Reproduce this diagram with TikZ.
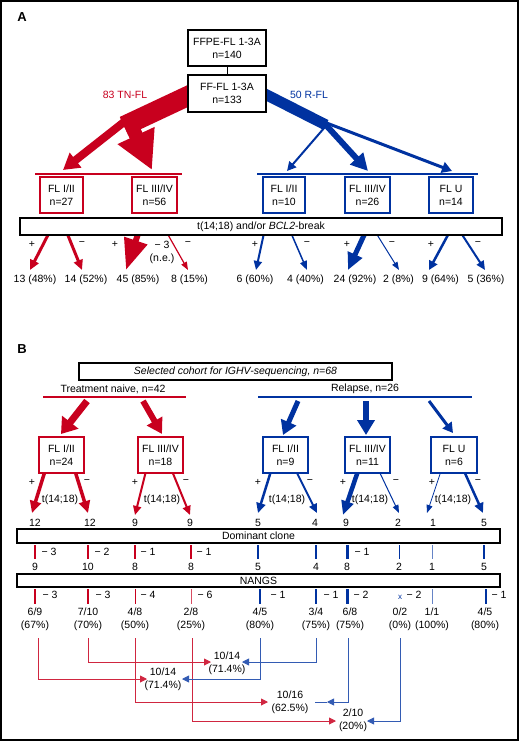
\documentclass[tikz,border=0pt]{standalone}
\usepackage{fontspec}
\setmainfont{Liberation Sans}
\usetikzlibrary{arrows.meta}
\definecolor{myred}{RGB}{200,0,30}
\definecolor{myblue}{RGB}{0,50,160}
\tikzset{
  ahead/.style 2 args={-{Triangle[length=#1pt,width=#2pt]}},
  bbox/.style={draw=black, line width=1.1pt, fill=white},
  rbox/.style={draw=myred, line width=1.6pt, fill=white, minimum height=36pt},
  blbox/.style={draw=myblue, line width=1.6pt, fill=white, minimum height=36pt},
  rline/.style={draw=myred!85, line width=0.9pt},
  bline/.style={draw=myblue!80, line width=0.9pt},
  smalltip/.style={-{Triangle[length=7pt,width=7pt]}},
  panel/.style={font=\bfseries\fontsize{13}{13}\selectfont}
}
\begin{document}
\begin{tikzpicture}[x=1pt,y=-1pt,
  every node/.style={font=\fontsize{10.5}{13}\selectfont, inner sep=0pt, align=center}]
\useasboundingbox (0,0) rectangle (520,741);
\draw[line width=1.5pt] (1,1) rectangle (518,740);

%================ PANEL A =================
\node[panel] (lblA) at (22,17) {A};

% red band and branches
\coordinate (rb0) at (200,90.3); \coordinate (rb1) at (124,126);
\draw[myred, line width=20pt] (rb0) -- (rb1);
\coordinate (rl0) at (124,122); \coordinate (rl1) at (63,170);
\draw[myred, line width=8pt, ahead={16}{18}] (rl0) -- (rl1);
\coordinate (rr0) at (127,116); \coordinate (rr1) at (152,170);
\draw[myred, line width=14pt, ahead={38}{38}] (rr0) -- (rr1);

% blue band and branches
\coordinate (bb0) at (255,89); \coordinate (bb1) at (326,125);
\draw[myblue, line width=11pt] (bb0) -- (bb1);
\coordinate (bl0) at (325,127); \coordinate (bl1) at (287,171);
\draw[myblue, line width=2pt, ahead={9}{9}] (bl0) -- (bl1);
\coordinate (bm0) at (325,124); \coordinate (bm1) at (368,171);
\draw[myblue, line width=6pt, ahead={17}{17}] (bm0) -- (bm1);
\coordinate (br0) at (324,122); \coordinate (br1) at (452,171);
\draw[myblue, line width=3pt, ahead={10}{11}] (br0) -- (br1);

\node[bbox, minimum width=78pt, minimum height=36pt] (ffpe) at (227,48) {FFPE-FL 1-3A\\n=140};
\node[bbox, minimum width=78pt, minimum height=37pt] (ff) at (227,93.5) {FF-FL 1-3A\\n=133};
\draw[line width=1pt] (ffpe.south) -- (ff.north);

\node[text=myred] (tn) at (125,95) {83 TN-FL};
\node[text=myblue] (rfl) at (309,95) {50 R-FL};

\coordinate (rh0) at (35,174); \coordinate (rh1) at (182,174);
\draw[myred, line width=2.2pt] (rh0) -- (rh1);
\coordinate (bh0) at (257,174); \coordinate (bh1) at (478,174);
\draw[myblue, line width=2.2pt] (bh0) -- (bh1);

\node[rbox, minimum width=43pt] (a1) at (61.5,195) {FL I/II\\n=27};
\node[rbox, minimum width=45pt] (a2) at (154.5,195) {FL III/IV\\n=56};
\node[blbox, minimum width=42pt] (a3) at (284,195) {FL I/II\\n=10};
\node[blbox, minimum width=45pt] (a4) at (367.5,195) {FL III/IV\\n=26};
\node[blbox, minimum width=44pt] (a5) at (451,195) {FL U\\n=14};

% lower arrows A
\coordinate (p1s) at (49,233); \coordinate (p1e) at (30,270);
\draw[myred, line width=3pt, ahead={10}{9}] (p1s) -- (p1e);
\coordinate (p2s) at (67,233); \coordinate (p2e) at (82,270);
\draw[myred, line width=3pt, ahead={10}{9}] (p2s) -- (p2e);
\coordinate (p3s) at (140,228); \coordinate (p3e) at (126,270);
\draw[myred, line width=6pt, ahead={31}{23}] (p3s) -- (p3e);
\coordinate (p4s) at (167,233); \coordinate (p4e) at (188,270);
\draw[myred, line width=1.2pt, ahead={8}{6}] (p4s) -- (p4e);
\coordinate (p5s) at (264,233); \coordinate (p5e) at (256,270);
\draw[myblue, line width=2pt, ahead={9}{8}] (p5s) -- (p5e);
\coordinate (p6s) at (291,233); \coordinate (p6e) at (307,270);
\draw[myblue, line width=1.5pt, ahead={9}{7}] (p6s) -- (p6e);
\coordinate (p7s) at (365,233); \coordinate (p7e) at (348,270);
\draw[myblue, line width=5pt, ahead={17}{15}] (p7s) -- (p7e);
\coordinate (p8s) at (376,233); \coordinate (p8e) at (399,270);
\draw[myblue, line width=1pt, ahead={8}{6}] (p8s) -- (p8e);
\coordinate (p9s) at (449,233); \coordinate (p9e) at (429,270);
\draw[myblue, line width=2.5pt, ahead={9}{9}] (p9s) -- (p9e);
\coordinate (p10s) at (461,233); \coordinate (p10e) at (485,270);
\draw[myblue, line width=2pt, ahead={9}{8}] (p10s) -- (p10e);

\node[bbox, minimum width=482pt, minimum height=17pt] (tbox) at (261,226.5) {t(14;18) and/or \textit{BCL2}-break};

% signs A
\foreach \x/\s [count=\i] in {32/+,82/−,115/+,188/−,255/+,307/−,347/+,392/−,431/+,478/−}
  \node (sa\i) at (\x,244) {\s};
\node (ne) at (162,252) {− 3\\(n.e.)};

\foreach \x/\t [count=\i] in {35/13 (48\%),86/14 (52\%),138/45 (85\%),189.5/8 (15\%),255/6 (60\%),305.5/4 (40\%),355/24 (92\%),398.5/2 (8\%),440.5/9 (64\%),486/5 (36\%)}
  \node (na\i) at (\x,280) {\t};

%================ PANEL B =================
\node[panel] (lblB) at (22,349) {B};
\node[bbox, minimum width=313pt, minimum height=17pt] (sel) at (235.5,371.5) {\itshape Selected cohort for IGHV-sequencing, n=68};
\node (tnv) at (113,389) {Treatment naive, n=42};
\node (rel) at (365,389) {Relapse, n=26};
\coordinate (rq0) at (43,397); \coordinate (rq1) at (186,397);
\draw[myred, line width=1.8pt] (rq0) -- (rq1);
\coordinate (bq0) at (258,397); \coordinate (bq1) at (472,397);
\draw[myblue, line width=1.8pt] (bq0) -- (bq1);

\coordinate (q1s) at (87,401); \coordinate (q1e) at (61,434);
\draw[myred, line width=7pt, ahead={15}{20}] (q1s) -- (q1e);
\coordinate (q2s) at (143,401); \coordinate (q2e) at (162,434);
\draw[myred, line width=6pt, ahead={15}{17}] (q2s) -- (q2e);
\coordinate (q3s) at (298,401); \coordinate (q3e) at (283,435);
\draw[myblue, line width=5pt, ahead={14}{16}] (q3s) -- (q3e);
\coordinate (q4s) at (366,401); \coordinate (q4e) at (366,435);
\draw[myblue, line width=6pt, ahead={15}{17}] (q4s) -- (q4e);
\coordinate (q5s) at (429,401); \coordinate (q5e) at (453,433);
\draw[myblue, line width=3pt, ahead={10}{11}] (q5s) -- (q5e);

% lower arrows B
\coordinate (u1s) at (45,471); \coordinate (u1e) at (32,513);
\draw[myred, line width=3.5pt, ahead={12}{11}] (u1s) -- (u1e);
\coordinate (u2s) at (75,471); \coordinate (u2e) at (88,513);
\draw[myred, line width=3.5pt, ahead={12}{11}] (u2s) -- (u2e);
\coordinate (u3s) at (146,471); \coordinate (u3e) at (135,515);
\draw[myred, line width=2pt, ahead={9}{8}] (u3s) -- (u3e);
\coordinate (u4s) at (172,471); \coordinate (u4e) at (190,515);
\draw[myred, line width=2pt, ahead={9}{8}] (u4s) -- (u4e);
\coordinate (u5s) at (271,471); \coordinate (u5e) at (258,513);
\draw[myblue, line width=2.5pt, ahead={10}{9}] (u5s) -- (u5e);
\coordinate (u6s) at (296,471); \coordinate (u6e) at (317,513);
\draw[myblue, line width=2pt, ahead={9}{8}] (u6s) -- (u6e);
\coordinate (u7s) at (358,471); \coordinate (u7e) at (343,515);
\draw[myblue, line width=4.5pt, ahead={14}{12}] (u7s) -- (u7e);
\coordinate (u8s) at (379,471); \coordinate (u8e) at (399,513);
\draw[myblue, line width=1pt, ahead={8}{6}] (u8s) -- (u8e);
\coordinate (u9s) at (441,471); \coordinate (u9e) at (427,513);
\draw[myblue, line width=0.8pt, ahead={8}{6}] (u9s) -- (u9e);
\coordinate (u10s) at (464,471); \coordinate (u10e) at (483,513);
\draw[myblue, line width=2.5pt, ahead={10}{9}] (u10s) -- (u10e);

\node[rbox, minimum width=45pt] (b1) at (61.5,455) {FL I/II\\n=24};
\node[rbox, minimum width=45pt] (b2) at (160.5,455) {FL III/IV\\n=18};
\node[blbox, minimum width=45pt] (b3) at (285.5,455) {FL I/II\\n=9};
\node[blbox, minimum width=45pt] (b4) at (367.5,455) {FL III/IV\\n=11};
\node[blbox, minimum width=46pt] (b5) at (454,455) {FL U\\n=6};

\foreach \x/\s [count=\i] in {32/+,87/−,135/+,186/−,258/+,310/−,343/+,396/−,432/+,478/−}
  \node (sb\i) at (\x,482) {\s};
\foreach \x [count=\i] in {60,162,287,370,453}
  \node (tt\i) at (\x,500) {t(14;18)};

\foreach \x/\t [count=\i] in {35/12,90/12,135/9,190/9,258/5,315/4,346/9,398/2,433/1,484/5}
  \node (nb\i) at (\x,523) {\t};

\node[bbox, minimum width=483pt, minimum height=14pt] (dom) at (258.5,536) {Dominant clone};

% bars below dominant clone
\draw[myred, line width=2.5pt] (35,545) -- (35,559);
\draw[myred, line width=2.5pt] (88,545) -- (88,559);
\draw[myred, line width=2pt] (135,545) -- (135,559);
\draw[myred, line width=2pt] (191,545) -- (191,559);
\draw[myblue, line width=2pt] (258,545) -- (258,559);
\draw[myblue, line width=1.5pt] (316,545) -- (316,559);
\draw[myblue, line width=3pt] (347,545) -- (347,559);
\draw[myblue, line width=0.8pt] (399,545) -- (399,559);
\draw[myblue!60, line width=0.7pt] (432,545) -- (432,559);
\draw[myblue, line width=2.5pt] (484,545) -- (484,559);
\node (d1) at (49,552) {− 3};
\node (d2) at (102,552) {− 2};
\node (d3) at (148,552) {− 1};
\node (d4) at (204,552) {− 1};
\node (d5) at (362,552) {− 1};

\foreach \x/\t [count=\i] in {35/9,88/10,135/8,191/8,258/5,316/4,347/8,399/2,432/1,484/5}
  \node (nc\i) at (\x,567) {\t};

\node[bbox, minimum width=483pt, minimum height=13pt] (nangs) at (258.5,580.5) {NANGS};

% bars below NANGS
\draw[myred, line width=2pt] (35,589) -- (35,604);
\draw[myred, line width=2pt] (88,589) -- (88,604);
\draw[myred, line width=1pt] (135,589) -- (135,604);
\draw[myred!70, line width=0.7pt] (191,589) -- (191,604);
\draw[myblue, line width=1.7pt] (260,589) -- (260,604);
\draw[myblue, line width=1.5pt] (316,589) -- (316,604);
\draw[myblue, line width=3pt] (347,589) -- (347,604);
\draw[myblue!60, line width=0.7pt] (432,589) -- (432,604);
\draw[myblue, line width=1.5pt] (486,589) -- (486,604);
\node[text=myblue, font=\fontsize{8}{8}\selectfont] (xm) at (400,597) {x};
\node (e1) at (50,595) {− 3};
\node (e2) at (103,595) {− 3};
\node (e3) at (148,595) {− 4};
\node (e4) at (205,595) {− 6};
\node (e5) at (278,595) {− 1};
\node (e6) at (331,595) {− 1};
\node (e7) at (361,595) {− 2};
\node (e8) at (414,595) {− 2};
\node (e9) at (499,595) {− 1};

% fractions
\node (f1) at (35,619.5) {6/9\\(67\%)};
\node (f2) at (88,619.5) {7/10\\(70\%)};
\node (f3) at (135,619.5) {4/8\\(50\%)};
\node (f4) at (191,619.5) {2/8\\(25\%)};
\node (f5) at (260,619.5) {4/5\\(80\%)};
\node (f6) at (316,619.5) {3/4\\(75\%)};
\node (f7) at (350,619.5) {6/8\\(75\%)};
\node (f8) at (400,619.5) {0/2\\(0\%)};
\node (f9) at (432,619.5) {1/1\\(100\%)};
\node (f10) at (485,619.5) {4/5\\(80\%)};

% targets
\node (t1) at (227,663) {10/14\\(71.4\%)};
\node (t2) at (163,679) {10/14\\(71.4\%)};
\node (t3) at (290,702) {10/16\\(62.5\%)};
\node (t4) at (353,720.5) {2/10\\(20\%)};

% connectors
\coordinate (c1s) at (38,638);  \coordinate (c1e) at (147,679);
\draw[rline, smalltip] (c1s) |- (c1e);
\coordinate (c2s) at (88,638);  \coordinate (c2e) at (211,662);
\draw[rline, smalltip] (c2s) |- (c2e);
\coordinate (c3s) at (135,638); \coordinate (c3e) at (268,702);
\draw[rline, smalltip] (c3s) |- (c3e);
\coordinate (c4s) at (192,638); \coordinate (c4e) at (336,721);
\draw[rline, smalltip] (c4s) |- (c4e);
\coordinate (c5s) at (260,638); \coordinate (c5e) at (182,679);
\draw[bline, smalltip] (c5s) |- (c5e);
\coordinate (c6s) at (316,638); \coordinate (c6e) at (242,662);
\draw[bline, smalltip] (c6s) |- (c6e);
\coordinate (c7s) at (348,638); \coordinate (c7e) at (327,702); \coordinate (c7x) at (315,702);
\draw[bline, smalltip] (c7s) |- (c7e);
\draw[bline] (c7e) -- (c7x);
\coordinate (c8s) at (400,638); \coordinate (c8e) at (367,721);
\draw[bline, smalltip] (c8s) |- (c8e);
\end{tikzpicture}
\end{document}
